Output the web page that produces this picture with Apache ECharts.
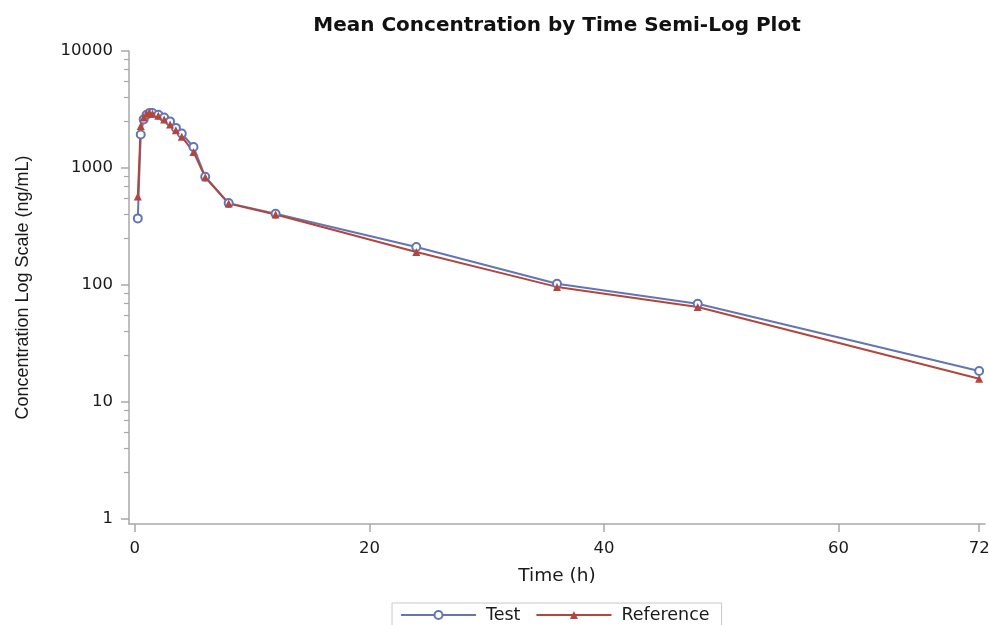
<!DOCTYPE html>
<html>
<head>
<meta charset="utf-8">
<script src="https://cdn.jsdelivr.net/npm/echarts@6/dist/echarts.min.js"></script>
<style>
html,body{margin:0;padding:0;background:#fff;}
#chart{width:989px;height:625px;}
</style>
</head>
<body>
<div id="chart"></div>
<script>
// Sampling times (h)
var times = [0.25, 0.5, 0.75, 1, 1.25, 1.5, 2, 2.5, 3, 3.5, 4, 5, 6, 8, 12, 24, 36, 48, 72];
// Mean concentrations (ng/mL)
var testValues = [370, 1930, 2600, 2850, 2950, 2950, 2850, 2700, 2500, 2200, 1970, 1510, 840, 500, 405, 211, 102, 69, 18.3];
var referenceValues = [570, 2280, 2700, 2900, 2950, 2900, 2800, 2600, 2350, 2100, 1850, 1370, 830, 495, 400, 191, 96, 64.5, 15.7];

var xTicks = [0, 20, 40, 60, 72];
var yTicks = [1, 10, 100, 1000, 10000];
var yMinorTicks = [2.5, 4, 5.5, 7, 8.5, 25, 40, 55, 70, 85, 250, 400, 550, 700, 850, 2500, 4000, 5500, 7000, 8500];

function pairs(xs, ys) {
  var out = [];
  for (var i = 0; i < xs.length; i++) out.push([xs[i], ys[i]]);
  return out;
}

var axisGrey = '#a8a8a8';
var textFont = 'DejaVu Sans';

var chart = echarts.init(document.getElementById('chart'));
chart.setOption({
  animation: false,
  backgroundColor: '#ffffff',
  title: {
    text: 'Mean Concentration by Time Semi-Log Plot',
    left: 552,
    textAlign: 'center',
    top: 11,
    textStyle: { fontFamily: textFont, fontWeight: 'bold', fontSize: 20, color: '#111' }
  },
  legend: {
    data: ['Test', 'Reference'],
    left: 392,
    top: 603,
    padding: [3, 12, 6, 8],
    itemWidth: 75,
    itemHeight: 10,
    itemGap: 15,
    borderColor: '#c8c8c8',
    borderWidth: 1,
    textStyle: { fontFamily: textFont, fontSize: 17.5, color: '#1a1a1a', padding: [0, 0, 0, 5] }
  },
  grid: {
    left: 129, right: 4, top: 51, bottom: 101,
    containLabel: false,
    outerBoundsMode: 'none'
  },
  xAxis: {
    type: 'value',
    min: -0.5,
    max: 72.5,
    name: 'Time (h)',
    nameLocation: 'middle',
    nameGap: 43,
    nameTextStyle: { fontFamily: textFont, fontSize: 18.5, color: '#1a1a1a' },
    axisLine: { show: true, onZero: false, lineStyle: { color: axisGrey, width: 1.5 } },
    axisTick: { show: true, length: 8, customValues: xTicks, lineStyle: { color: axisGrey, width: 1.5 } },
    axisLabel: { customValues: xTicks, margin: 16, fontFamily: textFont, fontSize: 16.5, color: '#1a1a1a' },
    splitLine: { show: false }
  },
  yAxis: [{
    type: 'log',
    min: 0.9,
    max: 10000,
    name: 'Concentration Log Scale (ng/mL)',
    nameLocation: 'middle',
    nameRotate: 90,
    nameGap: 97,
    nameTextStyle: { fontFamily: 'Liberation Sans', fontSize: 18, color: '#1a1a1a' },
    axisLine: { show: true, onZero: false, lineStyle: { color: axisGrey, width: 1.5 } },
    axisTick: { show: true, length: 8, customValues: yTicks, lineStyle: { color: axisGrey, width: 1.5 } },
    axisLabel: {
      customValues: yTicks, margin: 16, fontFamily: textFont, fontSize: 16.5, color: '#1a1a1a',
      formatter: function (v) { return String(Math.round(v)); }
    },
    splitLine: { show: false }
  }, {
    type: 'log',
    min: 0.9,
    max: 10000,
    position: 'left',
    axisLine: { show: false, onZero: false },
    axisTick: { show: true, length: 5, customValues: yMinorTicks, lineStyle: { color: axisGrey, width: 1.2 } },
    axisLabel: { show: false },
    splitLine: { show: false }
  }],
  series: [{
    name: 'Test',
    type: 'line',
    yAxisIndex: 0,
    data: pairs(times, testValues),
    symbol: 'emptyCircle',
    symbolSize: 8,
    color: '#6475b5',
    lineStyle: { color: '#6475b5', width: 2 },
    itemStyle: { color: '#6475b5', borderColor: '#6475b5', borderWidth: 1.5 }
  }, {
    name: 'Reference',
    type: 'line',
    yAxisIndex: 0,
    data: pairs(times, referenceValues),
    symbol: 'triangle',
    symbolSize: 8,
    color: '#b3463c',
    lineStyle: { color: '#b3463c', width: 2 },
    itemStyle: { color: '#b3463c' }
  }]
});
</script>
</body>
</html>
